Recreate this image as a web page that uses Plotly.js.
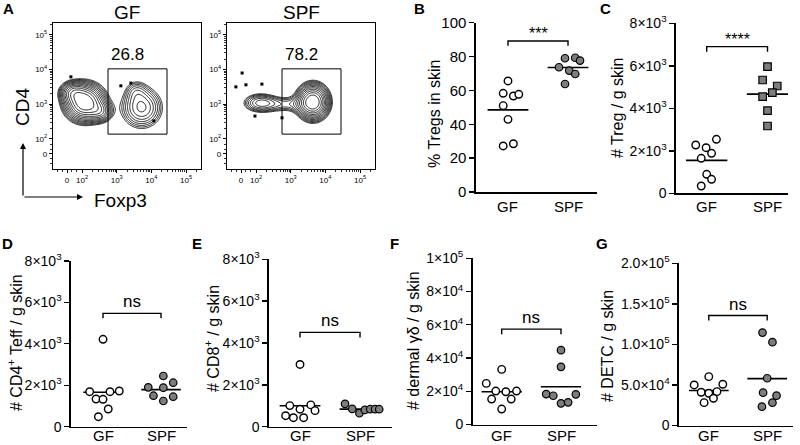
<!DOCTYPE html>
<html>
<head>
<meta charset="utf-8">
<script src="https://cdn.plot.ly/plotly-3.0.1.min.js"></script>
<style>
  body { margin: 0; background: #fff; }
  #fig { width: 800px; height: 445px; }
</style>
</head>
<body>
<div id="fig"></div>
<script>
const W = 800, H = 445;
const FONT = 'Liberation Sans, Arial, Helvetica, sans-serif';

// ---- panel A: flow plots (axis units = decades, 0 sits at 1.57) ----
const gfBlobCx  = [2.08, 1.72, 2.55, 3.72, 3.56];
const gfBlobCy  = [3.05, 3.35, 2.78, 2.90, 3.40];
const gfBlobSx  = [0.33, 0.22, 0.20, 0.36, 0.20];
const gfBlobSy  = [0.31, 0.18, 0.18, 0.36, 0.20];
const gfBlobAmp = [1, 0.35, 0.30, 0.40, 0.12];

const spfBlobCx  = [2.12, 2.85, 3.64];
const spfBlobCy  = [3.04, 3.00, 3.07];
const spfBlobSx  = [0.30, 0.50, 0.26];
const spfBlobSy  = [0.17, 0.15, 0.29];
const spfBlobAmp = [0.30, 0.18, 1];

const gfDotsX  = [1.68, 3.12, 3.41, 4.07];
const gfDotsY  = [3.79, 3.53, 3.61, 2.52];
const spfDotsX = [1.60, 1.42, 1.71, 2.17, 1.97, 2.75];
const spfDotsY = [3.90, 3.50, 3.56, 3.58, 2.66, 2.61];

const gate = [2.75, 4.45, 2.14, 4.02];   // x0, x1, y0, y1
const gatePct = ['26.8', '78.2'];
const flowTickVals = [1.57, 2, 3, 4, 5];
const flowTickText = ['0', '10<sup>2</sup>', '10<sup>3</sup>', '10<sup>4</sup>', '10<sup>5</sup>'];

// ---- panels B-G: per mouse values, x offsets are the jitter seen in the figure ----
const groups = ['GF', 'SPF'];

const bGF   = [65.6, 58.3, 56.7, 57.7, 51, 42.9, 27.2, 28.5];
const bGFx  = [0, -0.08, 0.09, 0.18, -0.08, 0, -0.08, 0.09];
const bSPF  = [79, 79.3, 77.6, 73.7, 71.7, 69.7, 63.8];
const bSPFx = [-0.05, 0.12, 0.2, -0.15, 0.02, 0.12, -0.05];

const cGF   = [2273, 2146, 2541, 1882, 1647, 894, 659, 344];
const cGFx  = [-0.18, -0.01, 0.16, 0.08, -0.09, 0, 0.08, -0.09];
const cSPF  = [5958, 5332, 5050, 4734, 4546, 3887, 3167];
const cSPFx = [0, -0.08, 0.16, 0.08, -0.08, 0, 0];

const dGF   = [4217, 1686, 1720, 1686, 1333, 1319, 850, 478];
const dGFx  = [0, -0.23, 0.28, 0.12, -0.12, 0, 0.09, -0.08];
const dSPF  = [2444, 1898, 2120, 1879, 1492, 1444, 1236];
const dSPFx = [0.04, -0.22, 0.21, 0.04, -0.13, 0.21, 0.04];

const eGF   = [2975, 1009, 836, 1043, 768, 526, 430, 430];
const eGFx  = [0, -0.17, 0, 0.18, 0.25, -0.24, -0.11, 0.06];
const eSPF  = [1092, 850, 642, 802, 836, 836, 836];
const eSPFx = [-0.25, -0.13, -0.01, 0.08, 0.17, 0.25, 0.32];

const fGF   = [33150, 24740, 20120, 19700, 20120, 15310, 15310, 9310];
const fGFx  = [0, -0.26, -0.1, 0.07, 0.25, -0.17, 0.16, 0];
const fSPF  = [44745, 34715, 18320, 17300, 12730, 13330, 18140];
const fSPFx = [0, 0, -0.25, -0.13, 0, 0.12, 0.25];

const gGF   = [60250, 50000, 50860, 40990, 39750, 41730, 33580, 28150];
const gGFx  = [0, -0.25, 0.24, -0.13, 0, 0.14, 0.08, -0.08];
const gSPF  = [114570, 102720, 58270, 40490, 36790, 23210, 28150];
const gSPFx = [-0.08, 0.09, 0, -0.07, 0.16, -0.09, 0.09];

const sig = ['***', '****', 'ns', 'ns', 'ns', 'ns'];

const tick8k = [0, 2000, 4000, 6000, 8000];
const tick8kText = ['0', '2×10<sup>3</sup>', '4×10<sup>3</sup>', '6×10<sup>3</sup>', '8×10<sup>3</sup>'];
const tickF = [0, 20000, 40000, 60000, 80000, 100000];
const tickFText = ['0', '2×10<sup>4</sup>', '4×10<sup>4</sup>', '6×10<sup>4</sup>', '8×10<sup>4</sup>', '1×10<sup>5</sup>'];
const tickG = [0, 50000, 100000, 150000, 200000];
const tickGText = ['0', '5.0×10<sup>4</sup>', '1.0×10<sup>5</sup>', '1.5×10<sup>5</sup>', '2.0×10<sup>5</sup>'];

// helpers to turn pixel boxes into paper fractions
const pxX = v => v / W;
const pxY = v => 1 - v / H;
const mean = a => a.reduce((s, v) => s + v, 0) / a.length;

const traces = [];
const shapes = [];
const annotations = [];
const layout = {
  width: W, height: H,
  margin: {l: 0, r: 0, t: 0, b: 0},
  paper_bgcolor: '#fff', plot_bgcolor: 'rgba(0,0,0,0)',
  showlegend: false,
  font: {family: FONT, color: '#000'},
};

// text placed in pixel coordinates of the page
const label = (x, y, text, size, extra) => {
  annotations.push(Object.assign({xref: 'paper', yref: 'paper', x: pxX(x), y: pxY(y), text: text,
    showarrow: false, xanchor: 'center', yanchor: 'middle', font: {size: size, family: FONT, color: '#000'}}, extra || {}));
};

//log density grid for the contour trace
const densityGrid = (cx, cy, sx, sy, amp, xs, ys) => {
  return ys.map(y => xs.map(x => {
    let s = 1e-9;
    for (let i = 0; i < cx.length; i++) {
      const dx = (x - cx[i]) / sx[i], dy = (y - cy[i]) / sy[i];
      s += amp[i] * Math.exp(-0.5 * (dx * dx + dy * dy));
    }
    return Math.log(s);
  }));
};

const flowRangeX = [1.164, 5.43];
const flowRangeY = [1.135, 5.34];
const gridX = [], gridY = [];
for (let v = flowRangeX[0]; v <= flowRangeX[1]; v += 0.025) gridX.push(v);
for (let v = flowRangeY[0]; v <= flowRangeY[1]; v += 0.025) gridY.push(v);

const minorVals = [1.3, 1.45, 1.7, 1.85];
[2, 3, 4, 5].forEach(d => { for (let k = 2; k <= 9; k++) minorVals.push(d + Math.log10(k)); });

const flowAxis = (dom, range, anchor) => ({
  domain: dom, range: range, anchor: anchor,
  showline: true, mirror: true, linecolor: '#000', linewidth: 1.2,
  showgrid: false, zeroline: false,
  ticks: 'outside', ticklen: 3, tickwidth: 1, tickcolor: '#000',
  tickmode: 'array', tickvals: flowTickVals, ticktext: flowTickText,
  tickfont: {size: 8, family: FONT},
  minor: {tickmode: 'array', tickvals: minorVals, ticks: 'outside', ticklen: 2, tickwidth: 0.8, tickcolor: '#000'},
  fixedrange: true,
});

const flowPanels = [
  {n: 1, left: 53, right: 201, blobs: [gfBlobCx, gfBlobCy, gfBlobSx, gfBlobSy, gfBlobAmp], dx: gfDotsX, dy: gfDotsY, pct: gatePct[0], title: 'GF'},
  {n: 2, left: 227, right: 375, blobs: [spfBlobCx, spfBlobCy, spfBlobSx, spfBlobSy, spfBlobAmp], dx: spfDotsX, dy: spfDotsY, pct: gatePct[1], title: 'SPF'},
];

flowPanels.forEach(p => {
  const xa = p.n === 1 ? 'x' : 'x' + p.n;
  const ya = p.n === 1 ? 'y' : 'y' + p.n;
  layout[p.n === 1 ? 'xaxis' : 'xaxis' + p.n] = flowAxis([pxX(p.left), pxX(p.right)], flowRangeX, ya);
  layout[p.n === 1 ? 'yaxis' : 'yaxis' + p.n] = flowAxis([pxY(169), pxY(23)], flowRangeY, xa);

  traces.push({
    type: 'contour', x: gridX, y: gridY,
    z: densityGrid(p.blobs[0], p.blobs[1], p.blobs[2], p.blobs[3], p.blobs[4], gridX, gridY),
    xaxis: xa, yaxis: ya,
    contours: {coloring: 'lines', start: -2.3, end: -0.08, size: 0.19, showlabels: false},
    colorscale: [[0, '#000'], [1, '#000']],
    line: {width: 0.85, smoothing: 1.3},
    showscale: false, hoverinfo: 'skip',
  });
  traces.push({
    type: 'scatter', mode: 'markers', x: p.dx, y: p.dy, xaxis: xa, yaxis: ya,
    marker: {symbol: 'square', size: 3, color: '#000'}, hoverinfo: 'skip',
  });
  shapes.push({type: 'rect', xref: xa, yref: ya, x0: gate[0], x1: gate[1], y0: gate[2], y1: gate[3],
    line: {color: '#000', width: 1}});
  annotations.push({xref: xa, yref: ya, x: 3.3, y: 4.42, text: p.pct, showarrow: false,
    xanchor: 'center', yanchor: 'middle', font: {size: 17, family: FONT}});
  label((p.left + p.right) / 2, 12, p.title, 19);
});

// CD4 / Foxp3 arrows and labels
annotations.push({xref: 'paper', yref: 'paper', x: pxX(23), y: pxY(143), ax: 0, ay: 54,
  text: '', showarrow: true, arrowhead: 2, arrowsize: 1, arrowwidth: 1.2, arrowcolor: '#000'});
annotations.push({xref: 'paper', yref: 'paper', x: pxX(83), y: pxY(197), ax: -60, ay: 0,
  text: '', showarrow: true, arrowhead: 2, arrowsize: 1, arrowwidth: 1.2, arrowcolor: '#000'});
label(22, 107, 'CD4', 19, {textangle: -90});
label(120, 200, 'Foxp3', 19);

// ---- dot plot panels ----
const dotPanels = [
  {n: 3, box: [476, 597, 22.7, 192], xr: [-0.533, 1.483], top: 100, tv: [0, 20, 40, 60, 80, 100], tt: ['0', '20', '40', '60', '80', '100'], tfs: 15,
   gf: bGF, gfx: bGFx, spf: bSPF, spfx: bSPFx, sym: 'circle', br: [89.2, 86.4], sig: sig[0],
   title: '% Tregs in skin', tpos: [435, 114], letter: 'B', lpos: [419, 9], gy: 206},
  {n: 4, box: [676, 788, 23.3, 193.3], xr: [-0.505, 1.337], top: 8000, tv: tick8k, tt: tick8kText, tfs: 14,
   gf: cGF, gfx: cGFx, spf: cSPF, spfx: cSPFx, sym: 'square', br: [6903, 6663], sig: sig[1],
   title: '# Treg / g skin', tpos: [618, 108], letter: 'C', lpos: [605, 9], gy: 206},
  {n: 5, box: [71, 187, 261, 426.6], xr: [-0.552, 1.448], top: 8000, tv: tick8k, tt: tick8kText, tfs: 14,
   gf: dGF, gfx: dGFx, spf: dSPF, spfx: dSPFx, sym: 'circle', br: [5472, 5231], sig: sig[2],
   title: '# CD4<sup>+</sup> Teff / g skin', tpos: [15, 343], letter: 'D', lpos: [7, 243], gy: 435},
  {n: 6, box: [269, 392, 259.3, 426.7], xr: [-0.517, 1.533], top: 8000, tv: tick8k, tt: tick8kText, tfs: 14,
   gf: eGF, gfx: eGFx, spf: eSPF, spfx: eSPFx, sym: 'circle', br: [4506, 4265], sig: sig[3],
   title: '# CD8<sup>+</sup> / g skin', tpos: [212, 339], letter: 'E', lpos: [197, 243], gy: 435},
  {n: 7, box: [472.7, 597, 258.3, 424.5], xr: [-0.489, 1.607], top: 100000, tv: tickF, tt: tickFText, tfs: 14,
   gf: fGF, gfx: fGFx, spf: fSPF, spfx: fSPFx, sym: 'circle', br: [57360, 54360], sig: sig[4],
   title: '# dermal γδ / g skin', tpos: [413, 341], letter: 'F', lpos: [394, 243], gy: 435},
  {n: 8, box: [679, 793, 263.3, 425.5], xr: [-0.51, 1.442], top: 200000, tv: tickG, tt: tickGText, tfs: 14,
   gf: gGF, gfx: gGFx, spf: gSPF, spfx: gSPFx, sym: 'circle', br: [135560, 129380], sig: sig[5],
   title: '# DETC / g skin', tpos: [607, 346], letter: 'G', lpos: [602, 243], gy: 435},
];

dotPanels.forEach(p => {
  const xa = 'x' + p.n, ya = 'y' + p.n;
  layout['xaxis' + p.n] = {
    domain: [pxX(p.box[0]), pxX(p.box[1])], range: p.xr, anchor: ya,
    showline: true, linecolor: '#000', linewidth: 1.6, showgrid: false, zeroline: false,
    ticks: '', showticklabels: false, fixedrange: true,
  };
  layout['yaxis' + p.n] = {
    domain: [pxY(p.box[3]), pxY(p.box[2])], range: [0, p.top], anchor: xa,
    showline: true, linecolor: '#000', linewidth: 1.6, showgrid: false, zeroline: false,
    ticks: 'outside', ticklen: 5, tickwidth: 1.4, tickcolor: '#000',
    tickmode: 'array', tickvals: p.tv, ticktext: p.tt,
    tickfont: {size: p.tfs, family: FONT}, fixedrange: true,
  };

  const gfX = p.gfx.map(v => 0 + v);
  const spfX = p.spfx.map(v => 1 + v);
  const mGF = mean(p.gf), mSPF = mean(p.spf);

  // mean bars
  traces.push({type: 'scatter', mode: 'lines', x: [-0.34, 0.34, null, 0.66, 1.34], y: [mGF, mGF, null, mSPF, mSPF],
    xaxis: xa, yaxis: ya, line: {color: '#000', width: 1.6}, hoverinfo: 'skip', cliponaxis: false});
  // significance bracket
  traces.push({type: 'scatter', mode: 'lines', x: [0, 0, 1, 1], y: [p.br[1], p.br[0], p.br[0], p.br[1]],
    xaxis: xa, yaxis: ya, line: {color: '#000', width: 1.4}, hoverinfo: 'skip', cliponaxis: false});
  traces.push({type: 'scatter', mode: 'markers', x: gfX, y: p.gf, xaxis: xa, yaxis: ya, cliponaxis: false,
    marker: {symbol: 'circle', size: 7.5, color: '#fff', line: {color: '#000', width: 1.4}},
    hoverinfo: 'skip'});
  traces.push({type: 'scatter', mode: 'markers', x: spfX, y: p.spf, xaxis: xa, yaxis: ya, cliponaxis: false,
    marker: {symbol: p.sym, size: 7.5, color: '#7d7d7d', line: {color: '#000', width: 1.2}},
    hoverinfo: 'skip'});

  // group names under the axis
  groups.forEach((g, i) => {
    annotations.push({xref: xa, yref: 'paper', x: i, y: pxY(p.gy), text: g, showarrow: false,
      xanchor: 'center', yanchor: 'middle', font: {size: 15, family: FONT}});
  });
  annotations.push({xref: xa, yref: ya, x: 0.5, y: p.br[0], xanchor: 'center', yanchor: 'bottom',
    yshift: p.sig === 'ns' ? 0 : -3, text: p.sig, showarrow: false,
    font: {size: p.sig === 'ns' ? 17 : 16, family: FONT}});
  label(p.tpos[0], p.tpos[1], p.title, 16, {textangle: -90});
  label(p.lpos[0], p.lpos[1], '<b>' + p.letter + '</b>', 15);
});

label(8, 9, '<b>A</b>', 15);

layout.shapes = shapes;
layout.annotations = annotations;

Plotly.newPlot('fig', traces, layout, {staticPlot: true, displayModeBar: false});
</script>
</body>
</html>
